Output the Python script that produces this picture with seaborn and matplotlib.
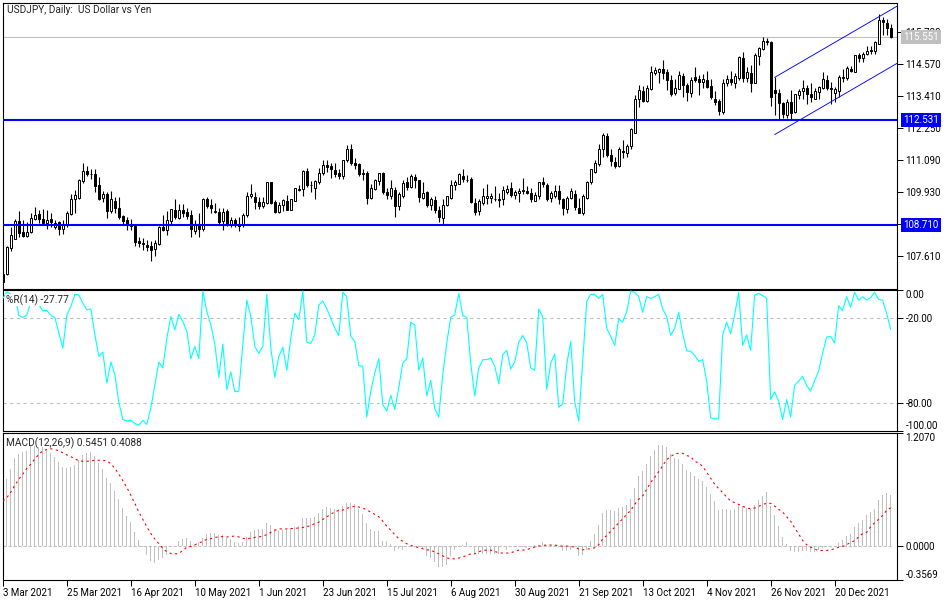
import numpy as np
import pandas as pd
import matplotlib
matplotlib.use('Agg')
import matplotlib.pyplot as plt
import seaborn as sns

sns.set_style('white', {'axes.edgecolor': 'black'})
plt.rcParams['font.family'] = ['Roboto', 'DejaVu Sans']
plt.rcParams['axes.linewidth'] = 0.72

# daily candles
open_ = [106.95,106.95,107.90,108.21,108.85,108.45,108.31,108.47,108.94,109.11,
         108.95,108.80,108.93,108.63,108.82,108.58,108.71,109.11,109.67,109.72,
         110.33,110.70,110.59,110.59,110.16,109.69,109.84,109.23,109.59,109.35,
         109.04,108.89,108.68,108.68,108.12,108.08,108.01,107.94,107.85,108.02,
         108.63,108.53,108.87,109.26,108.99,109.28,109.19,109.08,108.51,108.77,
         108.58,109.66,109.44,109.19,109.19,108.87,109.23,108.72,108.89,108.72,
         108.71,109.08,109.77,109.73,109.54,109.40,109.52,110.28,109.56,109.19,
         109.44,109.59,109.27,109.61,110.01,110.03,110.70,110.19,110.06,110.28,
         110.62,110.92,110.86,110.71,110.60,110.51,111.08,111.50,110.97,110.93,
         110.60,110.62,109.69,110.02,110.33,110.60,109.91,109.78,109.99,109.42,
         109.79,110.28,110.10,110.45,110.35,109.69,109.91,109.43,109.62,109.28,
         108.99,109.45,109.71,110.18,110.23,110.52,110.37,110.39,109.51,109.23,
         109.51,109.72,109.71,109.68,109.66,109.65,109.93,110.05,109.82,109.89,
         109.96,109.97,109.90,109.61,109.79,110.28,110.19,109.71,109.77,109.97,
         109.65,109.32,109.69,109.86,109.35,109.16,109.72,110.28,110.65,110.93,
         111.48,111.94,111.26,111.03,110.86,111.43,111.34,111.59,112.08,113.29,
         113.60,113.22,113.67,114.26,114.29,114.39,114.27,114.01,113.53,113.67,
         114.13,113.81,113.54,114.12,114.03,113.93,113.99,113.77,113.32,113.22,
         112.84,113.89,114.05,113.90,114.07,114.81,114.07,114.26,113.89,114.87,
         115.14,115.41,115.36,113.62,113.52,113.15,112.72,113.18,112.84,113.44,
         113.60,113.69,113.47,113.29,113.56,113.71,114.01,113.72,113.53,113.60,
         114.07,114.06,114.40,114.30,114.89,114.80,114.93,115.06,115.06,115.31,
         116.17,116.08,115.87]
high = [106.95,107.95,108.65,108.95,109.23,108.89,108.83,109.14,109.38,109.26,
        109.32,109.28,109.14,108.89,108.87,108.89,109.23,109.84,109.99,110.41,
        110.96,110.86,110.77,110.77,110.47,109.96,109.93,109.96,109.74,109.74,
        109.08,109.02,108.95,108.75,108.29,108.26,108.19,108.14,108.17,108.68,
        109.08,109.23,109.32,109.68,109.48,109.50,109.35,109.26,108.89,109.14,
        109.71,109.74,109.66,109.52,109.35,109.35,109.32,109.02,108.99,109.02,
        109.14,109.93,110.20,109.93,109.74,109.74,110.30,110.30,109.62,109.56,
        109.68,109.80,109.65,110.08,110.17,110.71,110.80,110.31,110.37,110.80,
        111.10,111.10,110.96,110.96,110.77,111.10,111.62,111.65,111.17,110.96,
        110.77,110.67,110.23,110.39,110.63,110.64,110.08,110.35,110.11,109.93,
        110.35,110.45,110.59,110.57,110.37,110.29,109.96,109.74,109.77,109.40,
        109.65,109.76,110.34,110.34,110.62,110.77,110.53,110.45,109.72,109.65,
        110.05,110.20,109.89,110.13,109.89,110.13,110.17,110.28,109.99,110.07,
        110.42,110.13,110.05,109.93,110.30,110.45,110.24,109.96,110.17,110.17,
        109.72,109.77,110.05,109.99,109.72,109.86,110.33,110.77,111.08,111.65,
        112.07,112.05,111.47,111.20,111.54,111.81,111.66,112.24,113.44,113.81,
        113.78,113.81,114.51,114.47,114.44,114.72,114.41,114.17,114.05,114.33,
        114.26,113.89,114.09,114.47,114.17,114.21,114.33,114.05,113.60,113.29,
        114.03,114.17,114.33,114.26,114.86,115.01,114.47,114.53,114.96,115.20,
        115.55,115.51,115.40,114.09,113.65,113.18,113.32,113.62,113.50,113.65,
        113.99,113.81,113.87,113.72,113.77,114.27,114.17,113.93,113.75,114.17,
        114.38,114.50,114.50,114.92,114.96,115.02,115.23,115.23,115.42,116.38,
        116.29,116.20,116.05]
low = [106.65,106.89,107.78,108.21,108.29,108.29,108.29,108.43,108.89,108.80,
       108.75,108.59,108.65,108.58,108.35,108.38,108.65,109.08,109.14,109.66,
       110.25,110.51,110.41,109.93,109.62,109.56,108.99,109.14,109.14,108.95,
       108.77,108.55,108.53,107.95,107.92,107.80,107.78,107.41,107.61,107.98,
       108.51,108.35,108.71,108.95,108.95,109.02,108.95,108.29,108.41,108.29,
       108.51,109.35,109.14,109.14,108.77,108.53,108.68,108.65,108.63,108.51,
       108.65,109.02,109.72,109.29,109.32,109.35,109.48,109.50,109.16,109.16,
       109.23,109.26,109.26,109.59,109.96,109.77,110.11,109.93,109.66,110.20,
       110.53,110.65,110.43,110.47,110.41,110.39,111.02,110.90,110.77,110.50,
       110.35,109.48,109.66,109.99,110.17,109.86,109.66,109.66,109.02,109.26,
       109.72,109.99,110.05,110.05,109.56,109.65,109.38,109.28,109.14,108.83,
       108.75,109.40,109.66,109.99,110.20,110.29,110.29,109.52,109.08,109.08,
       109.44,109.50,109.52,109.60,109.38,109.44,109.86,109.74,109.66,109.56,
       109.84,109.86,109.56,109.59,109.65,110.11,109.60,109.56,109.72,109.48,
       109.08,109.14,109.65,109.28,109.14,109.08,109.66,110.20,110.62,110.87,
       111.20,111.20,110.87,110.80,110.83,111.17,111.20,111.48,112.08,113.00,
       113.20,113.20,113.62,114.17,113.87,114.05,113.62,113.41,113.44,113.65,
       113.38,113.24,113.38,113.93,113.44,113.72,113.72,113.29,113.08,112.72,
       112.75,113.77,113.81,113.72,114.01,113.93,113.93,113.56,113.89,114.53,
       115.10,115.26,113.04,112.72,112.56,112.63,112.63,112.56,112.80,113.32,
       113.32,113.14,113.20,113.29,113.32,113.65,113.62,113.14,113.20,113.38,
       113.93,114.01,114.29,114.28,114.66,114.66,114.90,114.93,114.93,115.29,
       115.63,115.63,115.54]
close = [106.65,107.92,108.34,108.85,108.43,108.31,108.48,108.99,109.10,108.94,
         108.80,108.92,108.82,108.81,108.58,108.71,109.14,109.66,109.80,110.34,
         110.70,110.57,110.57,110.14,109.68,109.83,109.23,109.66,109.34,109.02,
         108.87,108.75,108.77,108.11,108.07,108.03,107.92,107.81,108.05,108.65,
         108.54,108.89,109.32,109.02,109.28,109.16,109.04,108.59,108.77,108.58,
         109.68,109.40,109.34,109.23,108.82,109.21,108.75,108.92,108.75,108.70,
         109.10,109.79,109.86,109.54,109.42,109.55,110.28,109.52,109.20,109.46,
         109.62,109.27,109.65,110.05,110.03,110.70,110.16,110.18,110.33,110.63,
         110.92,110.83,110.75,110.57,110.51,111.10,111.50,110.96,110.91,110.57,
         110.59,109.69,110.08,110.35,110.63,109.91,109.82,110.05,109.42,109.84,
         110.26,110.11,110.52,110.36,109.74,109.90,109.45,109.65,109.28,109.02,
         109.46,109.76,110.19,110.28,110.57,110.40,110.35,109.56,109.19,109.59,
         109.76,109.76,109.79,109.66,109.63,110.01,110.03,109.80,109.91,109.97,
         110.01,109.89,109.67,109.82,110.28,110.22,109.67,109.90,109.97,109.65,
         109.35,109.72,109.94,109.38,109.16,109.76,110.30,110.74,110.99,111.50,
         111.99,111.27,111.05,110.88,111.47,111.38,111.61,112.23,113.32,113.62,
         113.22,113.69,114.27,114.35,114.38,114.26,114.01,113.48,113.72,114.16,
         113.82,113.56,113.98,113.99,113.93,114.03,113.75,113.38,113.20,112.87,
         113.90,114.05,113.92,114.13,114.83,114.07,114.28,113.90,114.90,115.15,
         115.43,115.37,113.36,113.53,113.16,112.75,113.18,112.80,113.47,113.58,
         113.69,113.47,113.38,113.58,113.73,114.05,113.69,113.67,113.66,114.09,
         114.11,114.43,114.32,114.89,114.80,114.95,115.06,115.10,115.37,116.17,
         116.11,115.87,115.55]

pct_r = [-5.9,-1.2,-3.1,-3.5,-18.1,-19.5,-17.6,-8.2,-7.1,-10.6,-14.8,-14.4,-18.1,-19.5,-30.6,
         -41.2,-17.6,-11.8,-3.1,-3.5,-9.4,-14.1,-13.4,-31.8,-47.1,-44.0,-65.9,-51.1,-60.0,-80.0,
         -91.8,-92.9,-92.2,-94.8,-95.8,-92.5,-95.3,-83.5,-67.1,-51.1,-55.3,-34.1,-18.8,-28.2,-17.2,
         -22.4,-29.4,-48.7,-40.0,-48.7,-0.7,-15.3,-24.7,-38.4,-61.9,-38.4,-70.6,-58.1,-72.2,-71.8,
         -38.8,-7.1,-18.8,-40.0,-44.9,-40.0,-3.1,-41.2,-61.9,-47.1,-40.5,-56.9,-34.1,-16.5,-21.2,
         -0.7,-36.9,-37.9,-31.8,-10.6,-7.8,-13.4,-20.0,-27.1,-32.2,-1.6,-4.7,-32.9,-36.5,-53.6,
         -54.1,-90.1,-71.8,-58.8,-48.7,-81.2,-85.9,-74.6,-84.7,-69.4,-51.8,-48.7,-22.8,-24.7,-56.9,
         -48.2,-75.3,-64.0,-84.0,-90.1,-60.0,-37.6,-19.3,-17.6,-2.4,-18.1,-19.5,-51.8,-75.3,-55.3,
         -49.4,-49.4,-48.2,-54.1,-66.6,-45.9,-42.8,-56.0,-51.1,-36.9,-32.2,-37.6,-55.3,-56.9,-13.4,
         -18.8,-70.6,-51.8,-45.4,-83.1,-80.7,-52.9,-36.5,-79.3,-92.9,-50.6,-8.2,-3.1,-3.1,-5.9,
         -3.1,-27.1,-32.9,-39.3,-20.5,-22.8,-15.3,-0.7,-1.6,-4.7,-15.8,-4.7,-5.9,-4.7,-3.1,
         -13.4,-18.8,-32.2,-27.1,-15.8,-30.6,-43.1,-43.5,-46.4,-50.6,-49.4,-64.7,-90.6,-91.5,-91.3,
         -31.8,-22.8,-31.1,-17.6,-1.6,-39.3,-31.8,-42.8,-3.5,-2.4,-4.0,-5.9,-77.6,-72.2,-78.8,
         -91.8,-77.6,-90.1,-67.5,-64.7,-61.2,-67.8,-71.8,-64.2,-57.6,-44.7,-33.4,-32.9,-37.6,-11.1,
         -14.8,-4.7,-12.2,-1.6,-7.3,-4.7,-7.1,-5.4,-1.6,-6.6,-7.3,-16.5,-27.77]

macd_hist = [.481,.715,.823,.938,.984,1.009,1.013,1.063,1.063,1.056,1.056,1.027,.995,.948,.902,
             .848,.833,.848,.866,.923,.973,.995,1.002,.959,.884,.823,.722,.668,.589,.499,
             .402,.320,.255,.147,.061,-.011,-.093,-.158,-.176,-.147,-.129,-.093,-.011,.004,.057,
             .079,.086,.050,.014,.032,.086,.133,.140,.140,.119,.122,.086,.079,.043,.029,
             .043,.097,.154,.176,.183,.187,.241,.230,.183,.165,.169,.169,.194,.205,.212,
             .295,.302,.302,.313,.348,.399,.420,.402,.392,.399,.427,.456,.456,.445,.392,
             .338,.248,.187,.165,.165,.057,.057,.022,-.057,-.032,-.047,-.004,-.004,-.011,-.011,
             -.032,-.104,-.129,-.172,-.219,-.219,-.201,-.111,-.040,-.011,.014,.043,-.004,-.075,-.083,
             -.086,-.086,-.083,-.090,-.090,-.004,-.040,-.004,-.011,0,-.011,-.022,-.004,.014,.014,
             .043,.014,.014,.014,-.004,-.057,-.057,-.040,-.004,-.111,-.093,-.040,.050,.133,.230,
             .348,.381,.381,.374,.402,.417,.435,.499,.625,.751,.805,.876,.966,1.027,1.074,
             1.081,1.056,.984,.941,.930,.876,.812,.794,.751,.715,.697,.632,.560,.481,.381,
             .392,.392,.381,.392,.445,.427,.409,.392,.435,.492,.535,.578,.427,.327,.212,
             .093,.025,-.057,-.068,-.068,-.057,-.057,-.068,-.068,-.047,-.022,-.011,-.011,-.011,.032,
             .061,.111,.133,.201,.248,.277,.327,.363,.392,.489,.546,.564,.5451]
macd_signal = [.481,.517,.578,.650,.715,.769,.830,.876,.930,.981,1.017,1.031,1.038,1.031,1.017,
               .995,.973,.955,.930,.912,.905,.905,.909,.916,.916,.916,.909,.880,.830,.769,
               .697,.625,.542,.456,.363,.284,.205,.133,.075,.025,-.025,-.061,-.079,-.083,-.079,
               -.047,-.011,-.004,.014,.032,.050,.072,.079,.093,.097,.101,.097,.101,.108,.097,
               .083,.075,.086,.093,.097,.108,.122,.147,.169,.183,.183,.183,.187,.187,.194,
               .198,.208,.219,.241,.255,.284,.313,.338,.366,.381,.384,.402,.417,.424,.417,
               .406,.384,.363,.338,.313,.266,.212,.169,.122,.079,.050,.025,.007,-.004,-.018,
               -.029,-.040,-.043,-.065,-.083,-.104,-.126,-.136,-.136,-.129,-.115,-.101,-.083,-.083,-.061,
               -.047,-.043,-.043,-.057,-.072,-.075,-.075,-.072,-.057,-.043,-.043,-.040,-.022,-.011,0,
               .007,.011,.011,.011,.004,0,0,-.004,-.011,-.032,-.040,-.032,-.029,-.018,.014,
               .075,.111,.158,.201,.248,.291,.338,.381,.445,.499,.535,.607,.679,.733,.794,
               .858,.923,.955,.984,.991,.991,.966,.955,.905,.887,.851,.787,.722,.661,.614,
               .571,.524,.481,.463,.445,.424,.406,.399,.406,.424,.445,.456,.456,.427,.392,
               .363,.313,.266,.194,.129,.061,.014,-.011,-.032,-.047,-.047,-.047,-.040,-.029,-.011,
               -.004,.014,.040,.057,.097,.133,.147,.205,.248,.284,.327,.381,.4088]

# 108.770 sits behind the 108.710 box in the reference, so only its tick shows
price_ticks = [115.730, 114.570, 113.410, 112.250, 111.090, 109.930, 108.770, 107.610]
price_tick_labels = ['115.730', '114.570', '113.410', '112.250', '111.090', '109.930', '', '107.610']
level_prices = [112.531, 108.710]
last_price = 115.551
# trend channel anchors: bar index, upper price, lower price
channel_bars = [193, 223.6]
channel_upper = [114.09, 116.68]
channel_lower = [112.01, 114.60]

date_labels = ['3 Mar 2021', '25 Mar 2021', '16 Apr 2021', '10 May 2021', '1 Jun 2021',
               '23 Jun 2021', '15 Jul 2021', '6 Aug 2021', '30 Aug 2021', '21 Sep 2021',
               '13 Oct 2021', '4 Nov 2021', '26 Nov 2021', '20 Dec 2021']

df = pd.DataFrame({'open': open_, 'high': high, 'low': low, 'close': close,
                   'pct_r': pct_r, 'hist': macd_hist, 'signal': macd_signal})
df['bar'] = df.index

W, H = 950, 600
BLUE = '#0000FF'
GRAY = '#C0C0C0'
FS = 7.0


def panel(top, bottom):
    return fig.add_axes([2.5 / W, 1 - bottom / H, (897 - 2.5) / W, (bottom - top) / H])


def side_ticks(ax, ticks, labels):
    ax.yaxis.tick_right()
    ax.set_yticks(ticks)
    ax.set_yticklabels(labels, fontsize=FS, color='black')
    ax.tick_params(axis='y', length=4, width=0.72, pad=2, color='black', right=True)
    ax.set_xlabel('')
    ax.set_ylabel('')


fig = plt.figure(figsize=(W / 100, H / 100), dpi=100, facecolor='white')
ax_price = panel(2.5, 288.5)
ax_r = panel(290, 431)
ax_macd = panel(433, 579.5)

# price panel
up = df[df['close'] >= df['open']]
down = df[df['close'] < df['open']]
ax_price.vlines(df['bar'], df['low'], df['high'], color='black', lw=0.8, zorder=2)
ax_price.bar(up['bar'], up['close'] - up['open'], bottom=up['open'], width=0.55,
             facecolor='white', edgecolor='black', linewidth=0.72, zorder=3)
ax_price.bar(down['bar'], down['open'] - down['close'], bottom=down['close'], width=0.55,
             facecolor='black', edgecolor='black', linewidth=0.72, zorder=3)
ax_price.axhline(last_price, color=GRAY, lw=0.8, zorder=1)
for level in level_prices:
    ax_price.axhline(level, color=BLUE, lw=1.5, zorder=4)
sns.lineplot(x=channel_bars, y=channel_upper, color=BLUE, lw=0.65, ax=ax_price, zorder=4)
sns.lineplot(x=channel_bars, y=channel_lower, color=BLUE, lw=0.65, ax=ax_price, zorder=4)
ax_price.set_ylim(106.41, 116.815)
side_ticks(ax_price, price_ticks, price_tick_labels)
fig.text(7 / W, 1 - 10 / H, 'USDJPY, Daily:  US Dollar vs Yen', fontsize=7.3, va='center', ha='left')

# boxed price labels on the scale
for price, colour in [(last_price, GRAY), (level_prices[0], BLUE), (level_prices[1], BLUE)]:
    ax_price.annotate('%.3f' % price, xy=(1, price), xycoords=('axes fraction', 'data'),
                      xytext=(4.6, 0), textcoords='offset points', fontsize=FS, color='white',
                      va='center', ha='left', annotation_clip=False, zorder=10,
                      bbox=dict(boxstyle='square,pad=0.22', fc=colour, ec=colour, lw=0))

# %R panel
ax_r.axhline(-20, color=GRAY, lw=0.8, ls=(0, (3, 3)))
ax_r.axhline(-80, color=GRAY, lw=0.8, ls=(0, (3, 3)))
sns.lineplot(data=df, x='bar', y='pct_r', color='#00FFFF', lw=0.8, ax=ax_r, zorder=3)
ax_r.set_ylim(-100, 0)
side_ticks(ax_r, [0, -20, -80, -100], ['0.00', '-20.00', '-80.00', '-100.00'])
labs = ax_r.get_yticklabels()
labs[0].set_va('top')
labs[3].set_va('bottom')
fig.text(6 / W, 1 - 300 / H, '%R(14) -27.77', fontsize=7.3, va='center', ha='left',
         bbox=dict(fc='white', ec='none', pad=0.5), zorder=5)

# MACD panel
sns.barplot(data=df, x='bar', y='hist', native_scale=True, width=0.3, color=GRAY,
            saturation=1, linewidth=0, ax=ax_macd, zorder=2, antialiased=False)
ax_macd.plot([0, len(df) - 1], [0, 0], color=GRAY, lw=0.8, ls=(0, (3, 1.5)), zorder=1)
sns.lineplot(data=df, x='bar', y='signal', color='#FF0000', lw=0.8,
             linestyle=(0, (2, 3)), ax=ax_macd, zorder=3)
ax_macd.set_ylim(-0.3569, 1.2070)
side_ticks(ax_macd, [1.2070, 0, -0.3569], ['1.2070', '0.0000', '-0.3569'])
labs = ax_macd.get_yticklabels()
labs[0].set_va('top')
labs[2].set_va('bottom')
fig.text(6 / W, 1 - 443 / H, 'MACD(12,26,9) 0.5451 0.4088', fontsize=7.3, va='center', ha='left')

date_ticks = list(range(0, 16 * len(date_labels), 16))
ax_macd.set_xticks(date_ticks)
ax_macd.set_xticklabels(date_labels, fontsize=FS, ha='left', color='black')
ax_macd.tick_params(axis='x', length=4, width=0.72, pad=2, color='black', bottom=True)

for ax in [ax_price, ax_r]:
    ax.set_xticks([])
for ax in [ax_price, ax_r, ax_macd]:
    ax.set_xlim(-0.1, 223.6)
    for sp in ax.spines.values():
        sp.set_visible(True)
        sp.set_color('black')
        sp.set_linewidth(0.8)

fig.savefig('out.png', dpi=100, facecolor='white')
